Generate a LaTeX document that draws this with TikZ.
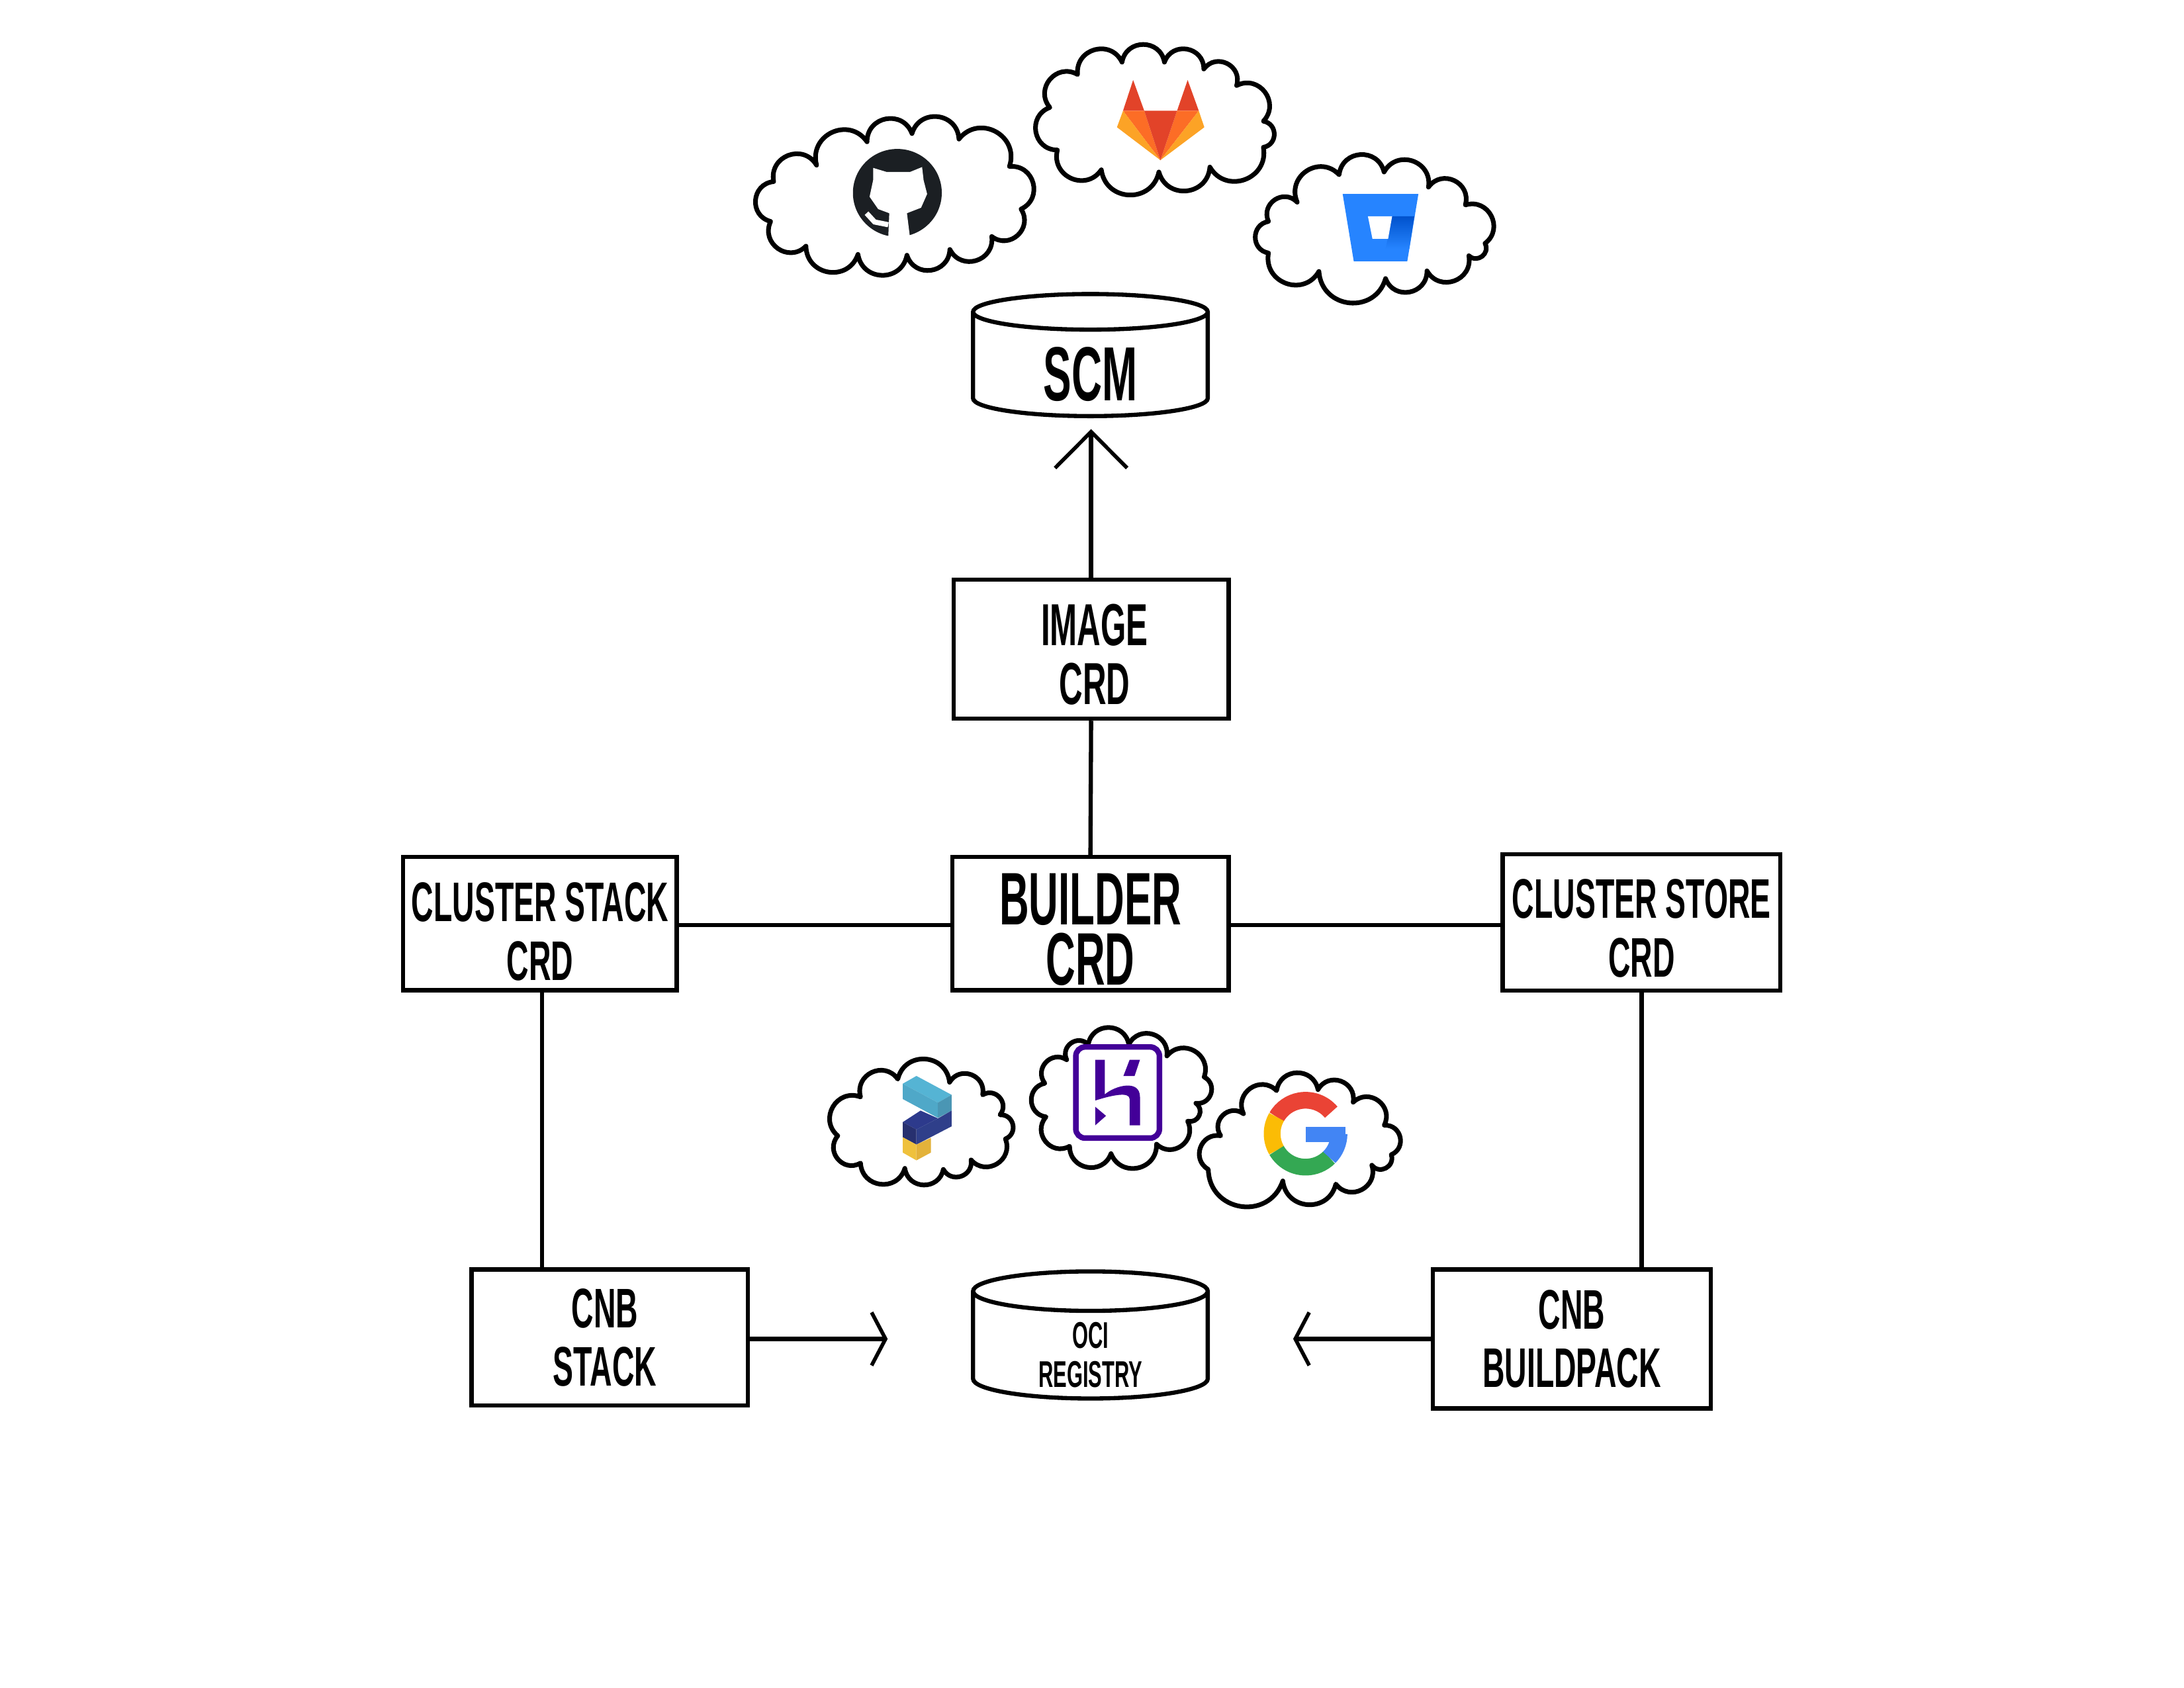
\documentclass[tikz,border=0pt]{standalone}
\usepackage{fontspec}
\usetikzlibrary{arrows.meta,shapes.geometric}
\newfontfamily\handfont[FakeStretch=0.55]{Liberation Sans}
\definecolor{ghdark}{HTML}{1B1F23}
\definecolor{glred}{HTML}{E24329}
\definecolor{glorange}{HTML}{FC6D26}
\definecolor{glyellow}{HTML}{FCA326}
\definecolor{bbblue}{HTML}{2684FF}
\definecolor{bbdark}{HTML}{0052CC}
\definecolor{hkpurple}{HTML}{430098}
\definecolor{gred}{HTML}{EA4335}
\definecolor{gyellow}{HTML}{FBBC05}
\definecolor{ggreen}{HTML}{34A853}
\definecolor{gblue}{HTML}{4285F4}
\definecolor{pkcyan}{HTML}{55B4D4}
\definecolor{pkcyanb}{HTML}{4FA8C8}
\definecolor{pkcyanc}{HTML}{4A96B4}
\definecolor{pknavy}{HTML}{2D3A8C}
\definecolor{pknavyb}{HTML}{2F3F8A}
\definecolor{pknavyc}{HTML}{27306F}
\definecolor{pkgold}{HTML}{EFC13C}
\definecolor{pkgoldb}{HTML}{E3B23A}
\tikzset{
  boxnode/.style={draw,line width=1.8pt,inner sep=0pt,align=center},
  drum/.style={draw,cylinder,shape border rotate=90,aspect=0.38,line width=1.8pt,inner sep=0pt,align=center,
    minimum width=100.9pt,minimum height=52.5pt},
  conn/.style={line width=1.8pt},
  bigbarb/.style={line width=1.8pt,-{Straight Barb[length=15.6pt,width=31pt,line width=1.6pt]}},
  flatbarb/.style={line width=1.8pt,-{Straight Barb[length=6pt,width=22.8pt,line width=1.6pt]}},
  cloudline/.style={line width=2pt,line join=round,fill=white},
  bump/.style={bend left=80,looseness=1.45},
  zoomA/.style={shift={(523.3,19.0)},x=0.00763cm,y=-0.004145cm},
  zoomB/.style={shift={(570,729.3)},x=0.00625cm,y=-0.00318cm},
  fs/.style={font=\handfont\bfseries\fontsize{33}{25.8}\selectfont},
  fa/.style={font=\handfont\bfseries\fontsize{32}{25.8}\selectfont},
  fb/.style={font=\handfont\bfseries\fontsize{24}{25.2}\selectfont},
  fi/.style={font=\handfont\bfseries\fontsize{25.5}{25.2}\selectfont},
  fc/.style={font=\handfont\bfseries\fontsize{16}{16.8}\selectfont},
}
\begin{document}
\begin{tikzpicture}[x=0.021055cm,y=-0.021055cm]
\useasboundingbox (0,0) rectangle (1567.3,1211.1);

% ---------- clouds upper ----------
\begin{scope}[zoomA]
\draw[cloudline] (88,565) to[bump] (173,505) to[bump] (273,420) to[bump] (362,390) to[bump] (455,410)
  to[bump] (555,510) to[bump] (578,665) to[bump] (520,765) to[bump] (437,812) to[bump] (352,833)
  to[bump] (255,830) to[bump] (152,800) to[bump] (82,710) to[bump] cycle;
\draw[cloudline] (690,175) to[bump] (778,130) to[bump] (862,130) to[bump] (940,155) to[bump] (1005,215)
  to[bump] (1058,345) to[bump] (1058,440) to[bump] (952,512) to[bump] (851,530) to[bump] (737,522)
  to[bump] (650,450) to[bump] (635,295) to[bump] cycle;
\draw[cloudline] (1125,640) to[bump] (1208,540) to[bump] (1297,530) to[bump] (1385,585) to[bump] (1458,650)
  to[bump] (1497,790) to[bump] (1465,835) to[bump] (1382,890) to[bump] (1300,918) to[bump] (1168,892)
  to[bump] (1068,825) to[bump] (1068,710) to[bump] cycle;
% GitHub mark
\fill[ghdark] (333,606) ellipse [x radius=88,y radius=160];
\fill[white] (285,515) -- (312,530) -- (358,530) -- (382,512) -- (385,560) -- (392,610) -- (380,660)
  -- (352,680) -- (358,768) -- (315,768) -- (317,680) -- (295,665) -- (278,620) -- (285,560) -- cycle;
\draw[white,line width=2.2pt] (272,680) -- (288,712) -- (315,722);
% GitLab mark
\fill[glred] (800,195) -- (822,307) -- (780,307) -- cycle;
\fill[glred] (908,195) -- (930,307) -- (887,307) -- cycle;
\fill[glorange] (780,307) -- (822,307) -- (854,487) -- cycle;
\fill[glorange] (887,307) -- (930,307) -- (854,487) -- cycle;
\fill[glyellow] (780,307) -- (768,367) -- (854,487) -- cycle;
\fill[glyellow] (930,307) -- (941,367) -- (854,487) -- cycle;
\fill[glred] (822,307) -- (887,307) -- (854,487) -- cycle;
% Bitbucket mark
\fill[bbblue] (1215,610) -- (1365,610) -- (1343,855) -- (1237,855) -- cycle;
\shade[bottom color=bbblue,top color=bbdark] (1313,691) -- (1357,691) -- (1347,810) -- (1300,810) -- cycle;
\fill[white] (1265,691) -- (1313,691) -- (1305,773) -- (1274,773) -- cycle;
\end{scope}

% ---------- clouds lower ----------
\begin{scope}[zoomB]
\draw[cloudline] (160,385) to[bump] (250,300) to[bump] (375,315) to[bump] (455,375) to[bump] (497,470)
  to[bump] (510,585) to[bump] (427,685) to[bump] (360,730) to[bump] (267,725) to[bump] (160,700)
  to[bump] (105,570) to[bump] cycle;
\draw[cloudline] (658,208) to[bump] (710,135) to[bump] (808,135) to[bump] (900,190) to[bump] (990,290)
  to[bump] (970,415) to[bump] (950,500) to[bump] (875,610) to[bump] (765,655) to[bump] (665,620)
  to[bump] (608,480) to[bump] (605,320) to[bump] cycle;
\draw[cloudline] (1085,465) to[bump] (1165,355) to[bump] (1265,350) to[bump] (1350,410) to[bump] (1425,520)
  to[bump] (1442,660) to[bump] (1395,710) to[bump] (1308,800) to[bump] (1180,785) to[bump] (1000,730)
  to[bump] (1030,570) to[bump] cycle;
% Paketo mark
\fill[pkcyan] (295,285) -- (380,375) -- (347,412) -- (262,322) -- cycle;
\fill[pkcyanb] (262,322) -- (347,412) -- (347,485) -- (262,395) -- cycle;
\fill[pkcyanc] (380,375) -- (380,450) -- (347,485) -- (347,412) -- cycle;
\fill[pknavy] (305,450) -- (347,487) -- (295,540) -- (262,505) -- cycle;
\fill[pknavyb] (295,540) -- (347,487) -- (380,450) -- (380,525) -- (295,612) -- cycle;
\fill[pknavyc] (262,505) -- (295,540) -- (295,612) -- (262,577) -- cycle;
\fill[pkgold] (262,577) -- (295,612) -- (295,687) -- (262,650) -- cycle;
\fill[pkgoldb] (295,612) -- (330,580) -- (330,650) -- (295,687) -- cycle;
% Heroku mark
\draw[hkpurple,line width=2.4pt,fill=white,rounded corners=4pt] (680,147) rectangle (882,581);
\fill[hkpurple] (727,208) -- (750,208) -- (750,373) .. controls (775,330) and (835,300) .. (835,385)
  -- (835,520) -- (810,520) -- (810,395) .. controls (810,360) and (770,375) .. (727,402) -- cycle;
\fill[hkpurple] (810,208) -- (835,208) -- (822,285) -- (795,285) -- cycle;
\fill[hkpurple] (727,432) -- (753,475) -- (727,520) -- cycle;
% Google mark bar
\fill[gblue] (1235,528) rectangle (1332,600);
\coordinate (gcentre) at (1235,560);
\end{scope}
\draw[gred,line width=7.2pt] (gcentre) ++(-40:24) arc[start angle=-40,end angle=-150,radius=24];
\draw[gyellow,line width=7.2pt] (gcentre) ++(-150:24) arc[start angle=-150,end angle=-210,radius=24];
\draw[ggreen,line width=7.2pt] (gcentre) ++(-210:24) arc[start angle=-210,end angle=-315,radius=24];
\draw[gblue,line width=7.2pt] (gcentre) ++(-315:24) arc[start angle=-315,end angle=-360,radius=24];

% ---------- nodes ----------
\node[drum,fs] (scm) at (782.5,262) {\raisebox{-3.9pt}[23pt][0pt]{SCM}};
\node[boxnode,fi,minimum width=118.2pt,minimum height=59.7pt] (image) at (783,466) {\rule{0pt}{22.5pt}\hspace*{3pt}IMAGE\\\hspace*{3pt}CRD};
\node[boxnode,fa,minimum width=118.8pt,minimum height=57.3pt] (builder) at (782.5,663) {\rule{0pt}{27pt}BUILDER\\CRD};
\node[boxnode,fb,minimum width=117.6pt,minimum height=57.3pt] (cstack) at (387.5,663) {\rule{0pt}{23.5pt}CLUSTER STACK\\CRD};
\node[boxnode,fb,minimum width=119.4pt,minimum height=58.5pt] (cstore) at (1178,662) {\rule{0pt}{22pt}CLUSTER STORE\\CRD};
\node[boxnode,fb,minimum width=118.8pt,minimum height=58.5pt] (cnbstack) at (437.5,960) {CNB\hspace*{4pt}\\STACK\hspace*{4pt}};
\node[boxnode,fb,minimum width=119.4pt,minimum height=59.7pt] (cnbpack) at (1128,961) {CNB\\BUILDPACK};
\node[drum,fc] (oci) at (782.5,966) {\raisebox{-3.6pt}[11.5pt][0pt]{OCI}\\\raisebox{-3.6pt}[11.5pt][0pt]{REGISTRY}};

% ---------- connectors ----------
\coordinate (scmtip) at (783,308);
\coordinate (ocileft) at (637,961);
\coordinate (ociright) at (928,961);
\draw[bigbarb] (image.north) -- (scmtip);
\draw[conn] (image.south) -- (builder.north);
\draw[conn] ([yshift=-0.6pt]cstack.east) -- ([yshift=-0.6pt]builder.west);
\draw[conn] ([yshift=-0.6pt]builder.east) -- ([yshift=-0.6pt]builder.east -| cstore.west);
\draw[conn] ([xshift=0.9pt]cstack.south) -- ([xshift=0.9pt]cstack.south |- cnbstack.north);
\draw[conn] (cstore.south) -- (cstore.south |- cnbpack.north);
\draw[flatbarb] (ocileft -| cnbstack.east) -- (ocileft);
\draw[flatbarb] (cnbpack.west) -- (ociright);
\end{tikzpicture}
\end{document}
